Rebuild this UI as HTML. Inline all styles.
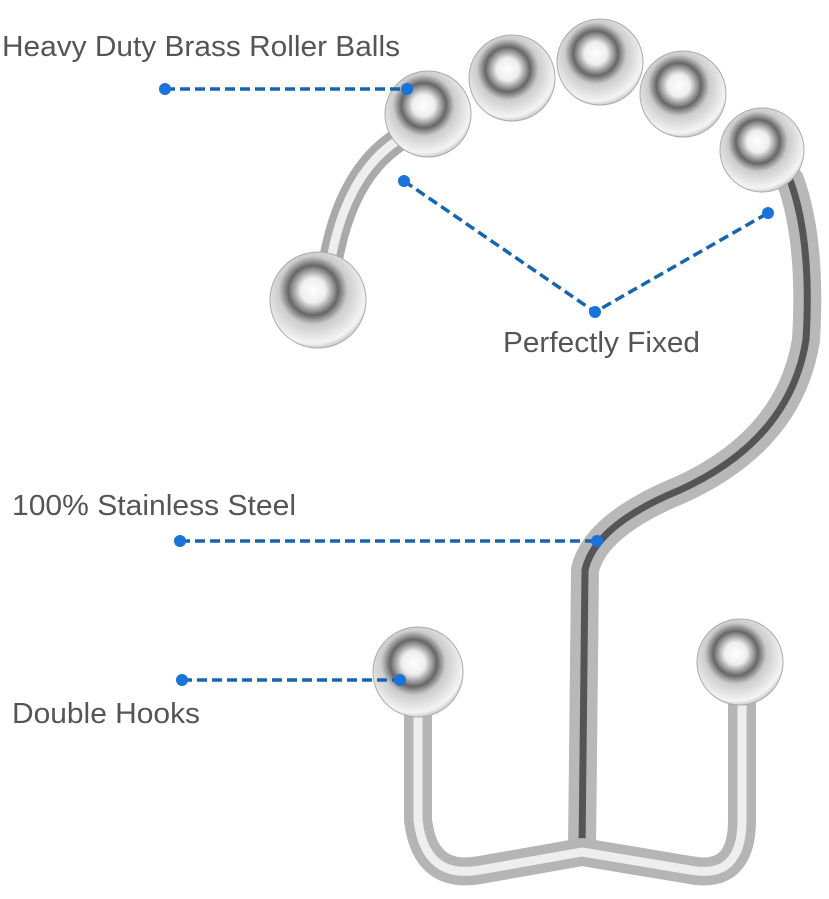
<!DOCTYPE html><html><head><style>body{margin:0;background:#fff}svg{display:block}text{font-family:"Liberation Sans",sans-serif;fill:#555}</style></head><body>
<svg width="829" height="899" viewBox="0 0 829 899">
<defs>
<radialGradient id="b" cx="0.45" cy="0.4" r="0.65"><stop offset="0" stop-color="#fff"/><stop offset="0.2" stop-color="#eee"/><stop offset="0.4" stop-color="#666"/><stop offset="0.55" stop-color="#ccc"/><stop offset="0.85" stop-color="#f4f4f4"/><stop offset="1" stop-color="#aaa"/></radialGradient>
</defs>
<g fill="none" stroke-linecap="round" stroke-linejoin="round">
<path d="M330 265 Q345 175 398 140" stroke="#aaa" stroke-width="24"/>
<path d="M330 265 Q345 175 398 140" stroke="#eee" stroke-width="9"/>
<path d="M790 180 Q812 240 806 340 Q790 440 680 490 Q595 525 585 570 L582 850" stroke="#b8b8b8" stroke-width="28"/>
<path d="M790 180 Q812 240 806 340 Q790 440 680 490 Q595 525 585 570 L582 850" stroke="#555" stroke-width="7"/>
<path d="M418 715 L418 820 Q425 880 480 870 L582 852 L690 870 Q742 880 742 820 L742 705" stroke="#b5b5b5" stroke-width="28"/>
<path d="M418 715 L418 820 Q425 880 480 870 L582 852 L690 870 Q742 880 742 820 L742 705" stroke="#eee" stroke-width="9"/>
</g>
<g fill="url(#b)" stroke="#aaa" stroke-width="1">
<circle cx="318" cy="300" r="48"/>
<circle cx="512" cy="78" r="43"/>
<circle cx="600" cy="62" r="43"/>
<circle cx="683" cy="94" r="43"/>
<circle cx="762" cy="150" r="42"/>
<circle cx="428" cy="114" r="43"/>
<circle cx="418" cy="672" r="45"/>
<circle cx="740" cy="662" r="43"/>
</g>
<g stroke="#1565b0" stroke-width="3.5" stroke-dasharray="10 5" fill="none">
<path d="M165 89 L407 89"/>
<path d="M404 181 L595 312 L768 213"/>
<path d="M180 541 L597 541"/>
<path d="M182 680 L400 680"/>
</g>
<g fill="#1a73d8">
<circle cx="165" cy="89" r="6"/><circle cx="407" cy="89" r="6"/>
<circle cx="404" cy="181" r="6"/><circle cx="595" cy="312" r="6"/><circle cx="768" cy="213" r="6"/>
<circle cx="180" cy="541" r="6"/><circle cx="597" cy="541" r="6"/>
<circle cx="182" cy="680" r="6"/><circle cx="400" cy="680" r="6"/>
</g>
<text x="2" y="56" font-size="29" textLength="398" lengthAdjust="spacingAndGlyphs">Heavy Duty Brass Roller Balls</text>
<text x="503" y="352" font-size="29" textLength="197" lengthAdjust="spacingAndGlyphs">Perfectly Fixed</text>
<text x="12" y="515" font-size="29" textLength="284" lengthAdjust="spacingAndGlyphs">100% Stainless Steel</text>
<text x="12" y="723" font-size="29" textLength="188" lengthAdjust="spacingAndGlyphs">Double Hooks</text>
</svg>
</body></html>
